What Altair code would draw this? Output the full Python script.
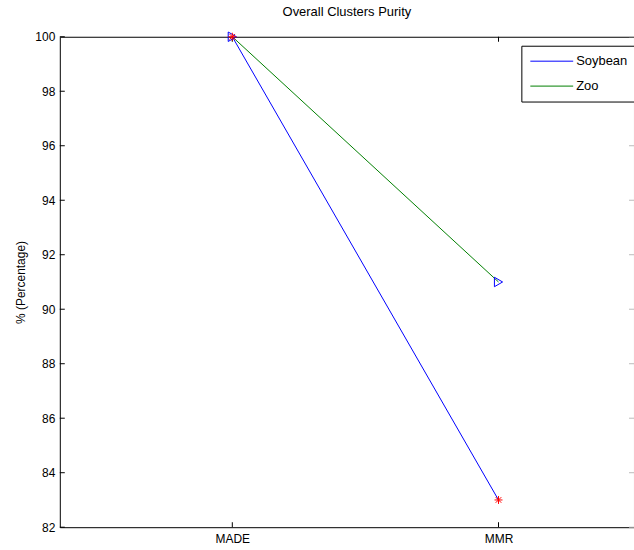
import altair as alt
import pandas as pd

methods = ["MADE", "MMR"]
soybean = [100, 83]
zoo = [100, 91]
series_names = ["Soybean", "Zoo"]
line_colors = ["#0000ff", "#008000"]
y_ticks = [82, 84, 86, 88, 90, 92, 94, 96, 98, 100]

rows = []
for name, vals in zip(series_names, [soybean, zoo]):
    for i, (m, v) in enumerate(zip(methods, vals)):
        rows.append({"method": m, "idx": i + 1, "series": name, "value": v})
df = pd.DataFrame(rows)
tick_df = pd.DataFrame({"idx": [i + 1 for i in range(len(methods))]})
ytick_df = pd.DataFrame({"value": y_ticks})

FONT = "Liberation Sans"
W, H = 576, 492
xscale = alt.Scale(domain=[0.352, 2.509], nice=False, zero=False)
yscale = alt.Scale(domain=[82, 100], nice=False, zero=False)

label_expr = "datum.value == 1 ? 'MADE' : datum.value == 2 ? 'MMR' : ''"

lines = alt.Chart(df).mark_line(strokeWidth=1).encode(
    x=alt.X("idx:Q", scale=xscale,
            axis=alt.Axis(values=[1, 2], labelExpr=label_expr, title=None, ticks=False,
                          grid=False, domain=False, labelPadding=6, labelFontSize=12,
                          labelFont=FONT, labelColor="#000")),
    y=alt.Y("value:Q", scale=yscale,
            axis=alt.Axis(values=y_ticks, title="% (Percentage)", ticks=False, grid=False,
                          domain=False, labelPadding=5, labelFontSize=12, labelFont=FONT,
                          labelColor="#000", titleFont=FONT, titleFontSize=12,
                          titleFontWeight="normal", titleColor="#000", titlePadding=7)),
    color=alt.Color("series:N",
                    scale=alt.Scale(domain=series_names, range=line_colors),
                    legend=alt.Legend(title=None, orient="none", legendX=463, legendY=9,
                                      strokeColor="#000", fillColor="#fff", padding=8,
                                      symbolType="M-3.07,0H3.07", symbolSize=196,
                                      symbolStrokeWidth=1, symbolOffset=15,
                                      labelOffset=17, rowPadding=10,
                                      labelFont=FONT, labelFontSize=13,
                                      labelColor="#000")),
    detail="series:N",
)

soy_pts = alt.Chart(df).transform_filter(alt.datum.series == "Soybean").mark_point(
    shape="M-1,0L1,0M0,-1L0,1M-0.7,-0.7L0.7,0.7M-0.7,0.7L0.7,-0.7",
    filled=False, color="#ff0000", size=64, strokeWidth=1, opacity=1,
).encode(x=alt.X("idx:Q", scale=xscale), y=alt.Y("value:Q", scale=yscale))

zoo_pts = alt.Chart(df).transform_filter(alt.datum.series == "Zoo").mark_point(
    shape="triangle-right", filled=False, color="#0000ff", size=90, strokeWidth=1, opacity=1,
).encode(x=alt.X("idx:Q", scale=xscale), y=alt.Y("value:Q", scale=yscale))

bottom_ticks = alt.Chart(tick_df).mark_rule(color="#000", strokeWidth=1).encode(
    x=alt.X("idx:Q", scale=xscale), y=alt.value(H), y2=alt.value(H - 5))
top_ticks = alt.Chart(tick_df).mark_rule(color="#000", strokeWidth=1).encode(
    x=alt.X("idx:Q", scale=xscale), y=alt.value(0), y2=alt.value(5))
left_ticks = alt.Chart(ytick_df).mark_rule(color="#000", strokeWidth=1).encode(
    y=alt.Y("value:Q", scale=yscale), x=alt.value(0), x2=alt.value(5))
right_ticks = alt.Chart(ytick_df).mark_rule(color="#bbb", strokeWidth=1).encode(
    y=alt.Y("value:Q", scale=yscale), x=alt.value(W - 5), x2=alt.value(W))

chart = alt.layer(
    bottom_ticks, top_ticks, left_ticks, right_ticks, lines, zoo_pts, soy_pts
).properties(
    width=W, height=H,
    title=alt.TitleParams("Overall Clusters Purity", font=FONT, fontSize=13,
                          fontWeight="normal", color="#000", offset=11, anchor="middle"),
    autosize=alt.AutoSizeParams(type="none"),
    padding={"left": 60, "top": 36, "right": 0, "bottom": 22},
).configure(background="#ffffff").configure_view(stroke="#000000", strokeWidth=1)

chart.save("out.html", embed_options={"renderer": "svg", "actions": False})
